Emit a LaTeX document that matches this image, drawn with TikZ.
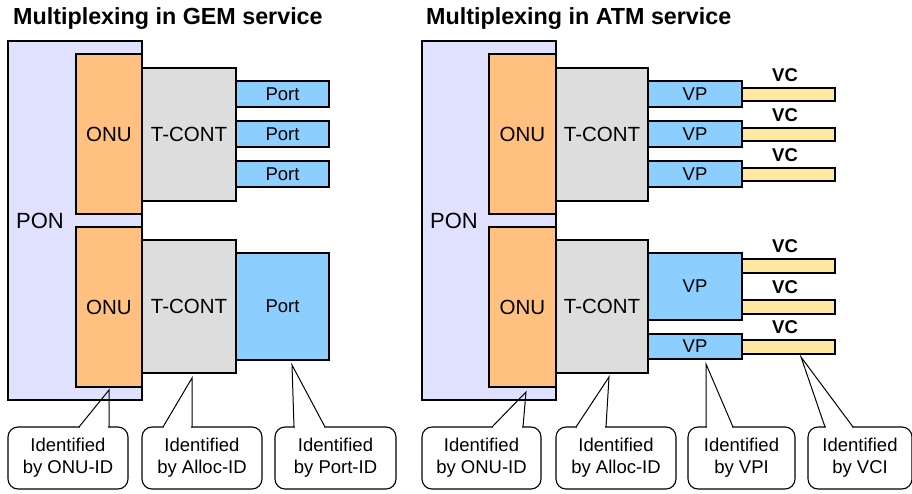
\documentclass[tikz,border=0pt]{standalone}
\usepackage{fontspec}
\setmainfont{Liberation Sans}
\definecolor{ponc}{HTML}{E0E0FF}
\definecolor{onuc}{HTML}{FFC080}
\definecolor{tcc}{HTML}{DDDDDD}
\definecolor{portc}{HTML}{8CCFFF}
\definecolor{vcc}{HTML}{FFE8A0}
\newcommand{\rbox}[7]{\node[#2, minimum width={(#5-#3)*1pt}, minimum height={(#6-#4)*1pt}] (#1) at (#3,#4) {#7};}
\newcommand{\callptr}[5]{%
  \coordinate (#1tip) at (#2,#3);
  \coordinate (#1bl) at (#4,427);
  \coordinate (#1br) at (#5,427);
  \fill[white] ([xshift=0.8pt,yshift=1.6pt]#1bl) rectangle ([xshift=-0.8pt,yshift=-1.6pt]#1br);
  \draw[ptr] (#1bl) -- (#1tip) -- (#1br);}
\begin{document}
\begin{tikzpicture}[x=1pt,y=-1pt,
  bx/.style={draw=black, line width=1.3pt, inner sep=0pt, outer sep=0pt, anchor=north west},
  pon/.style={bx, fill=ponc},
  onu/.style={bx, fill=onuc, font=\fontsize{20.5}{24}\selectfont},
  tc/.style={bx, fill=tcc, font=\fontsize{20.5}{24}\selectfont},
  port/.style={bx, fill=portc, font=\fontsize{18.5}{22}\selectfont},
  vc/.style={bx, fill=vcc},
  vclab/.style={font=\fontsize{18.5}{22}\selectfont\bfseries, inner sep=0pt},
  ponlab/.style={font=\fontsize{22}{26}\selectfont, inner sep=0pt, anchor=west},
  callbox/.style={draw=black, line width=1.1pt, rounded corners=10pt, fill=white, align=center, inner sep=0pt, outer sep=0pt, font=\fontsize{18.5}{22}\selectfont, anchor=north west},
  ptr/.style={draw=black, line width=1pt, line join=miter},
  ttl/.style={font=\fontsize{23.3}{27}\selectfont\bfseries, anchor=base west, inner sep=0pt},
]
\useasboundingbox (0,0) rectangle (912,494);
\fill[white] (0,0) rectangle (912,494);

% titles
\node[ttl] (t1) at (13,25) {Multiplexing in GEM service};
\node[ttl] (t2) at (426,25) {Multiplexing in ATM service};

% ---------- GEM ----------
\rbox{pon1}{pon}{8}{41}{142}{400}{}
\node[ponlab] (pon1l) at (16,221) {PON};
\rbox{onu1a}{onu}{76}{54}{142}{214}{ONU}
\rbox{tc1a}{tc}{142}{68}{236}{201}{T-CONT}
\rbox{p1a}{port}{236}{81}{329}{107}{Port}
\rbox{p1b}{port}{236}{121}{329}{147}{Port}
\rbox{p1c}{port}{236}{161}{329}{187}{Port}
\rbox{onu1b}{onu}{76}{227}{142}{387}{ONU}
\rbox{tc1b}{tc}{142}{240}{236}{373}{T-CONT}
\rbox{p1d}{port}{236}{253}{329}{360}{Port}

% ---------- ATM ----------
\rbox{pon2}{pon}{422}{41}{556}{400}{}
\node[ponlab] (pon2l) at (430,221) {PON};
\rbox{onu2a}{onu}{489}{54}{556}{214}{ONU}
\rbox{tc2a}{tc}{556}{68}{648}{201}{T-CONT}
\rbox{vp1}{port}{648}{81}{742}{107}{VP}
\rbox{vp2}{port}{648}{121}{742}{147}{VP}
\rbox{vp3}{port}{648}{161}{742}{187}{VP}
\rbox{vc1}{vc}{742}{88}{835}{101}{}
\rbox{vc2}{vc}{742}{128}{835}{141}{}
\rbox{vc3}{vc}{742}{168}{835}{181}{}
\node[vclab] (vl1) at (785,75) {VC};
\node[vclab] (vl2) at (785,115) {VC};
\node[vclab] (vl3) at (785,155) {VC};
\rbox{onu2b}{onu}{489}{227}{556}{387}{ONU}
\rbox{tc2b}{tc}{556}{240}{648}{373}{T-CONT}
\rbox{vp4}{port}{648}{253}{742}{320}{VP}
\rbox{vp5}{port}{648}{334}{742}{359}{VP}
\rbox{vc4}{vc}{742}{259}{835}{273}{}
\rbox{vc5}{vc}{742}{300}{835}{314}{}
\rbox{vc6}{vc}{742}{340}{835}{354}{}
\node[vclab] (vl4) at (785,246) {VC};
\node[vclab] (vl5) at (785,287) {VC};
\node[vclab] (vl6) at (785,327) {VC};

% ---------- callouts ----------
\rbox{c1}{callbox}{8}{427}{128}{489}{Identified\\by ONU-ID}
\rbox{c2}{callbox}{142}{427}{262}{489}{Identified\\by Alloc-ID}
\rbox{c3}{callbox}{275}{427}{396}{489}{Identified\\by Port-ID}
\rbox{c4}{callbox}{422}{427}{541}{489}{Identified\\by ONU-ID}
\rbox{c5}{callbox}{556}{427}{676}{489}{Identified\\by Alloc-ID}
\rbox{c6}{callbox}{688}{427}{795}{489}{Identified\\by VPI}
\rbox{c7}{callbox}{808}{427}{912}{489}{Identified\\by VCI}

\callptr{c1}{109}{390}{79}{109}
\callptr{c2}{192}{378}{163}{192}
\callptr{c3}{292}{365}{294}{325}
\callptr{c4}{526}{392}{492}{523}
\callptr{c5}{609}{377}{576}{606}
\callptr{c6}{706}{364}{706}{733}
\callptr{c7}{801}{357}{825}{853}
\end{tikzpicture}
\end{document}
